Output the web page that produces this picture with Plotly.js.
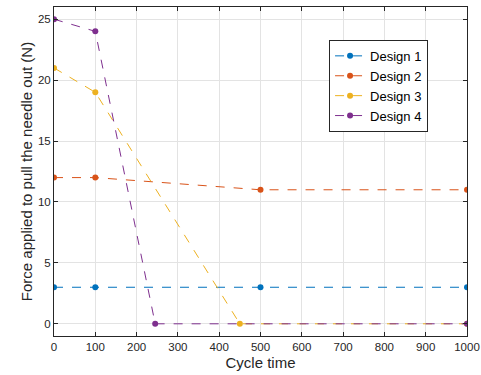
<!DOCTYPE html>
<html><head><meta charset="utf-8">
<script src="https://cdn.plot.ly/plotly-3.0.1.min.js"></script>
<style>html,body{margin:0;padding:0;background:#fff}#c{width:481px;height:375px}</style>
</head><body><div id="c"></div>
<script>
const seriesNames = ["Design 1","Design 2","Design 3","Design 4"];
const x1 = [0,100,500,1000], y1 = [3,3,3,3];
const x2 = [0,100,500,1000], y2 = [12,12,11,11];
const x3 = [0,100,450,1000], y3 = [21,19,0,0];
const x4 = [0,100,245,1000], y4 = [25,24,0,0];
const xTicks = [0,100,200,300,400,500,600,700,800,900,1000];
const yTicks = [0,5,10,15,20,25];
const colors = ["#0072BD","#D95319","#EDB120","#7E2F8E"];
const xs=[x1,x2,x3,x4], ys=[y1,y2,y3,y4];
const traces = xs.map((x,i)=>({x:x,y:ys[i],name:seriesNames[i],type:'scatter',mode:'lines+markers',
  line:{color:colors[i],width:1,dash:'dash'},marker:{color:colors[i],size:6}}));
const fam = '"Liberation Sans", Arial, sans-serif';
const font = {family:fam, color:'#262626'};
const layout = {
  width:481,height:375,margin:{l:54,r:14,t:7,b:39},
  paper_bgcolor:'#fff',plot_bgcolor:'#fff',font:font,showlegend:true,
  xaxis:{range:[0,1000],tickvals:xTicks,ticktext:xTicks.map(String),showgrid:true,gridcolor:'#e3e3e3',
    zeroline:false,showline:true,linecolor:'#262626',linewidth:1,mirror:'ticks',ticks:'inside',ticklen:4,
    tickcolor:'#262626',tickfont:{size:11.5,family:fam,color:'#262626'},
    title:{text:'Cycle time',font:{size:15,family:fam,color:'#262626'},standoff:5}},
  yaxis:{range:[-1,26],tickvals:yTicks,ticktext:yTicks.map(String),showgrid:true,gridcolor:'#e3e3e3',
    zeroline:false,showline:true,linecolor:'#262626',linewidth:1,mirror:'ticks',ticks:'inside',ticklen:4,
    tickcolor:'#262626',tickfont:{size:11.5,family:fam,color:'#262626'},
    title:{text:'Force applied to pull the needle out (N)',font:{size:15,family:fam,color:'#262626'},standoff:1}},
  legend:{x:0.666,y:0.9,xanchor:'left',yanchor:'top',bgcolor:'#fff',bordercolor:'#262626',borderwidth:1,
    font:{size:13,family:fam,color:'#000'},tracegroupgap:0,itemwidth:30}
};
Plotly.newPlot('c',traces,layout,{displayModeBar:false,staticPlot:true});
</script></body></html>
